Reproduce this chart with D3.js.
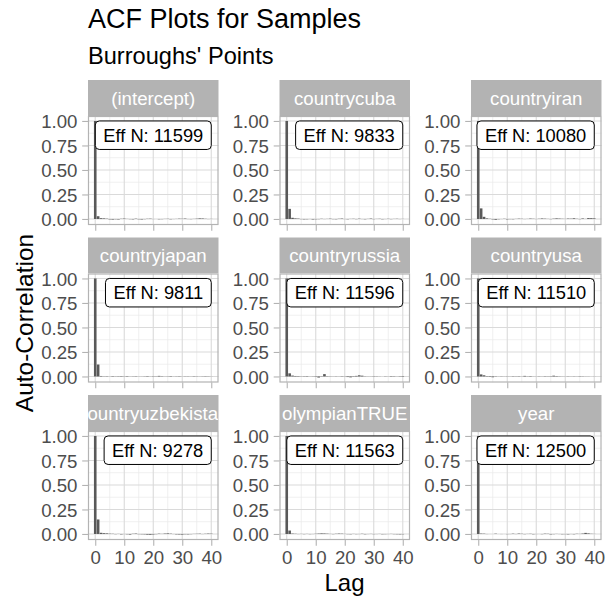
<!DOCTYPE html>
<html>
<head>
<meta charset="utf-8">
<script src="https://cdn.jsdelivr.net/npm/d3@7"></script>
<style>
  html, body { margin: 0; padding: 0; background: #ffffff; }
  svg { display: block; font-family: "Liberation Sans", Arial, sans-serif; }
</style>
</head>
<body>
<div id="chart"></div>
<script>
// ---------------- data ----------------
const parameters = ["(intercept)", "countrycuba", "countryiran", "countryjapan", "countryrussia",
  "countryusa", "countryuzbekistan", "olympianTRUE", "year"];
const effN = [11599, 9833, 10080, 9811, 11596, 11510, 9278, 11563, 12500];
const lags = d3.range(0, 41);
const acfIntercept = [1, 0.028, 0.008, 0.006, 0.003, -0.004, -0.006, -0.003, -0.005, 0.002, 0.004, 0.001, -0.002, -0.004, 0.003, -0.003, -0.005, -0.002, 0.002, 0.003, -0.001, 0.0, -0.003, -0.002, 0.001, 0.002, -0.003, -0.001, 0.001, 0.003, 0.002, 0.004, -0.001, -0.002, 0.001, 0.003, 0.006, 0.005, 0.002, -0.001, 0.001];
const acfCuba = [1, 0.103, 0.012, 0.006, 0.004, -0.002, -0.004, -0.003, -0.001, -0.005, -0.003, -0.002, 0.002, -0.001, 0.001, 0.003, -0.002, -0.003, 0.002, 0.004, -0.001, -0.003, 0.001, 0.002, -0.002, 0.003, -0.001, -0.003, 0.001, 0.004, -0.002, 0.001, 0.002, -0.003, -0.001, 0.002, -0.002, 0.001, 0.002, -0.001, 0.001];
const acfIran = [1, 0.108, 0.022, 0.006, 0.002, -0.004, -0.008, -0.003, -0.001, 0.002, -0.004, -0.002, -0.003, 0.001, 0.003, 0.002, -0.001, 0.001, 0.004, 0.002, -0.001, 0.002, 0.005, 0.003, 0.001, -0.002, 0.003, 0.006, 0.004, 0.002, 0.001, 0.004, 0.003, 0.007, 0.002, -0.002, 0.005, 0.001, 0.009, 0.008, 0.006];
const acfJapan = [1, 0.122, 0.005, 0.002, -0.003, 0.001, -0.004, -0.002, 0.003, -0.004, 0.002, 0.004, 0.001, -0.002, 0.003, 0.001, -0.001, 0.002, 0.004, 0.001, 0.003, 0.002, 0.006, 0.003, -0.001, 0.002, 0.004, 0.001, -0.002, 0.003, 0.001, -0.002, 0.002, 0.001, -0.003, 0.002, 0.001, -0.002, 0.003, 0.002, 0.001];
const acfRussia = [1, 0.032, 0.009, 0.005, 0.004, 0.002, 0.003, 0.004, 0.001, -0.002, -0.004, -0.011, -0.003, 0.024, 0.003, -0.002, 0.001, 0.002, -0.001, -0.003, -0.002, -0.006, -0.009, -0.004, 0.006, 0.012, 0.008, 0.002, -0.001, 0.001, 0.003, 0.002, 0.001, 0.0, 0.002, -0.001, 0.004, 0.003, 0.001, -0.003, -0.005];
const acfUsa = [1, 0.021, 0.012, 0.004, -0.005, -0.008, -0.003, 0.001, -0.002, -0.001, 0.002, -0.001, -0.003, -0.002, 0.003, 0.001, 0.006, 0.002, 0.004, 0.001, -0.001, 0.002, 0.001, -0.003, 0.002, 0.003, 0.008, 0.004, 0.002, -0.001, 0.001, 0.002, 0.001, -0.002, 0.001, 0.003, 0.002, -0.001, 0.001, 0.0, 0.001];
const acfUzbekistan = [1, 0.148, 0.012, 0.008, 0.006, 0.003, 0.002, -0.002, 0.001, -0.004, -0.001, -0.003, -0.006, 0.002, 0.004, -0.002, -0.003, -0.004, -0.007, -0.008, -0.005, -0.002, 0.003, 0.001, 0.004, 0.006, 0.003, -0.001, -0.004, -0.005, -0.006, -0.003, -0.004, -0.002, 0.001, 0.002, 0.003, -0.001, 0.002, 0.004, 0.003];
const acfOlympian = [1, 0.035, 0.004, 0.002, -0.001, 0.001, -0.002, 0.001, -0.002, -0.001, 0.002, 0.004, 0.006, 0.005, 0.003, 0.001, -0.002, 0.002, 0.004, 0.003, 0.001, -0.002, -0.003, 0.001, -0.002, -0.001, 0.002, -0.003, -0.001, 0.001, -0.002, -0.001, 0.001, -0.003, -0.002, -0.001, 0.001, -0.002, -0.003, -0.004, -0.003];
const acfYear = [1, 0.004, 0.003, -0.001, 0.0, 0.0, 0.003, 0.0, -0.001, 0.0, -0.002, -0.001, 0.003, -0.001, 0.004, 0.002, -0.002, 0.001, 0.002, -0.003, -0.001, 0.0, -0.002, 0.003, 0.002, -0.004, -0.002, 0.001, -0.001, -0.003, -0.002, -0.004, -0.001, -0.003, 0.002, 0.001, 0.004, 0.011, 0.006, 0.002, 0.001];
const acfSeries = [acfIntercept, acfCuba, acfIran, acfJapan, acfRussia, acfUsa, acfUzbekistan, acfOlympian, acfYear];
const xTicks = [0, 10, 20, 30, 40];
const yTicks = [0, 0.25, 0.5, 0.75, 1];

const titleText = "ACF Plots for Samples";
const subtitleText = "Burroughs' Points";
const xTitle = "Lag";
const yTitle = "Auto-Correlation";

// ---------------- layout ----------------
const W = 613, H = 596;
const colX = [88, 279.5, 471];
const panelW = 130.5;
const rowY = [80, 237.5, 395];
const stripH = 36;
const plotH = 109;
const tickLen = 5.8;
const tickFont = 18.67;

const svg = d3.select("#chart").append("svg").attr("width", W).attr("height", H);
svg.append("rect").attr("width", W).attr("height", H).attr("fill", "#ffffff");

// scales (shared, ggplot-like expansion)
const barW = 0.9;
const xMin = -barW / 2, xMax = 40 + barW / 2;
const xPad = (xMax - xMin) * 0.05;
const x = d3.scaleLinear().domain([xMin - xPad, xMax + xPad]).range([0, panelW]);
const allVals = acfSeries.flat();
const yLo = Math.min(0, d3.min(allVals)), yHi = d3.max(allVals);
const yPad = (yHi - yLo) * 0.05;
const y = d3.scaleLinear().domain([yLo - yPad, yHi + yPad]).range([plotH, 0]);

// titles
svg.append("text").attr("x", 88).attr("y", 27.5).attr("font-size", 27).attr("fill", "#000")
  .text(titleText);
svg.append("text").attr("x", 88).attr("y", 64).attr("font-size", 23.6).attr("fill", "#000")
  .text(subtitleText);

const defs = svg.append("defs");

parameters.forEach((p, i) => {
  const c = i % 3, r = Math.floor(i / 3);
  const gx = colX[c], gy = rowY[r];
  const g = svg.append("g").attr("transform", `translate(${gx},${gy})`);

  // strip
  const cid = "clip" + i;
  defs.append("clipPath").attr("id", cid).append("rect")
    .attr("x", 0).attr("y", 0).attr("width", panelW).attr("height", stripH);
  g.append("rect").attr("x", 0).attr("y", 0).attr("width", panelW).attr("height", stripH)
    .attr("fill", "#B3B3B3");
  g.append("g").attr("clip-path", `url(#${cid})`).append("text")
    .attr("x", panelW / 2).attr("y", stripH / 2 + 6.5)
    .attr("text-anchor", "middle").attr("font-size", tickFont).attr("fill", "#ffffff")
    .text(p);

  // panel
  const pg = g.append("g").attr("transform", `translate(0,${stripH})`);
  pg.append("rect").attr("width", panelW).attr("height", plotH).attr("fill", "#ffffff");

  // minor grid
  const xMinor = [5, 15, 25, 35];
  const yMinor = [0.125, 0.375, 0.625, 0.875];
  pg.selectAll(".xminor").data(xMinor).enter().append("line")
    .attr("x1", d => x(d)).attr("x2", d => x(d)).attr("y1", 0).attr("y2", plotH)
    .attr("stroke", "#E8E8E8").attr("stroke-width", 0.7);
  pg.selectAll(".yminor").data(yMinor).enter().append("line")
    .attr("x1", 0).attr("x2", panelW).attr("y1", d => y(d)).attr("y2", d => y(d))
    .attr("stroke", "#E8E8E8").attr("stroke-width", 0.7);
  // major grid
  pg.selectAll(".xmajor").data(xTicks).enter().append("line")
    .attr("x1", d => x(d)).attr("x2", d => x(d)).attr("y1", 0).attr("y2", plotH)
    .attr("stroke", "#DADADA").attr("stroke-width", 1.1);
  pg.selectAll(".ymajor").data(yTicks).enter().append("line")
    .attr("x1", 0).attr("x2", panelW).attr("y1", d => y(d)).attr("y2", d => y(d))
    .attr("stroke", "#DADADA").attr("stroke-width", 1.1);

  // bars
  const vals = acfSeries[i];
  pg.selectAll(".bar").data(lags).enter().append("rect")
    .attr("x", d => x(d - barW / 2))
    .attr("width", x(barW) - x(0))
    .attr("y", d => Math.min(y(vals[d]), y(0)))
    .attr("height", d => Math.max(Math.abs(y(vals[d]) - y(0)), 0.01))
    .attr("fill", "#595959");

  // border
  pg.append("rect").attr("x", 0.5).attr("y", 0.5).attr("width", panelW - 1).attr("height", plotH - 1)
    .attr("fill", "none").attr("stroke", "#B3B3B3").attr("stroke-width", 1.2);

  // y axis
  const yAxis = d3.axisLeft(y).tickValues(yTicks).tickFormat(d3.format(".2f"))
    .tickSize(tickLen).tickPadding(4.7);
  const ya = pg.append("g").call(yAxis);
  ya.select(".domain").remove();
  ya.selectAll("line").attr("stroke", "#B3B3B3").attr("stroke-width", 1.1);
  ya.selectAll("text").attr("font-size", tickFont).attr("fill", "#4D4D4D")
    .attr("font-family", "Liberation Sans, Arial, sans-serif").attr("dy", "0.36em");

  // x axis (only bottom row)
  if (r === 2) {
    const xAxis = d3.axisBottom(x).tickValues(xTicks).tickFormat(d3.format("d"))
      .tickSize(tickLen).tickPadding(4.7);
    const xa = pg.append("g").attr("transform", `translate(0,${plotH})`).call(xAxis);
    xa.select(".domain").remove();
    xa.selectAll("line").attr("stroke", "#B3B3B3").attr("stroke-width", 1.1);
    xa.selectAll("text").attr("font-size", tickFont).attr("fill", "#4D4D4D")
      .attr("font-family", "Liberation Sans, Arial, sans-serif").attr("dy", "0.72em");
  } else {
    const xAxis = d3.axisBottom(x).tickValues(xTicks).tickFormat("").tickSize(tickLen);
    const xa = pg.append("g").attr("transform", `translate(0,${plotH})`).call(xAxis);
    xa.select(".domain").remove();
    xa.selectAll("line").attr("stroke", "#B3B3B3").attr("stroke-width", 1.1);
  }

  // Eff N label (anchored top-right at lag 40, acf 1)
  const lg = pg.append("g");
  const t = lg.append("text").attr("font-size", 18.3).attr("fill", "#000")
    .attr("text-anchor", "middle").text("Eff N: " + effN[i]);
  const tw = t.node().getComputedTextLength();
  const padX = 8, bh = 28.5;
  const bw = tw + 2 * padX;
  const bx = x(40) - bw, by = y(1);
  lg.insert("rect", "text").attr("x", bx).attr("y", by).attr("width", bw).attr("height", bh)
    .attr("rx", 4).attr("ry", 4).attr("fill", "#ffffff").attr("stroke", "#000").attr("stroke-width", 1);
  t.attr("x", bx + bw / 2).attr("y", by + bh / 2 + 6.5);
});

// axis titles
svg.append("text").attr("x", 344.5).attr("y", 591).attr("text-anchor", "middle")
  .attr("font-size", 24).attr("fill", "#000").text(xTitle);
svg.append("text").attr("transform", "translate(33,323) rotate(-90)").attr("text-anchor", "middle")
  .attr("font-size", 24.5).attr("fill", "#000").text(yTitle);
</script>
</body>
</html>
